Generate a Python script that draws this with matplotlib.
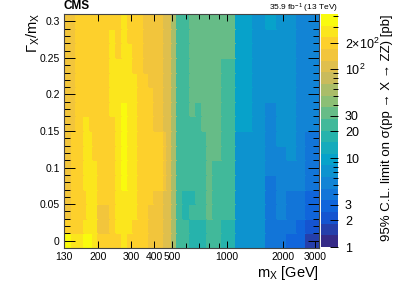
import numpy as np
import matplotlib
matplotlib.use('Agg')
import matplotlib.pyplot as plt
from matplotlib.colors import LinearSegmentedColormap, LogNorm
from matplotlib.ticker import FixedLocator, NullFormatter

plt.rcParams['font.family'] = ['Liberation Sans', 'DejaVu Sans']
plt.rcParams['mathtext.fontset'] = 'custom'
plt.rcParams['mathtext.rm'] = 'Liberation Sans'
plt.rcParams['mathtext.it'] = 'Liberation Sans:italic'
plt.rcParams['mathtext.bf'] = 'Liberation Sans:bold'

# mass points (GeV) and relative widths of the scan
masses = [130, 138, 148, 155, 162, 170, 177, 184, 192, 204, 222, 240, 259, 280,
          298, 318, 342, 362, 387, 419, 444, 463, 485, 513, 555, 600, 652, 704,
          749, 802, 870, 1000, 1260, 1500, 1780, 1970, 2290, 2530, 2860]
widths = [0.00, 0.02, 0.04, 0.06, 0.08, 0.10, 0.12, 0.14, 0.16, 0.18, 0.20,
          0.22, 0.24, 0.26, 0.28, 0.30]

# 95% CL limit [pb], one row per width value
lim_w000 = [300, 330, 300, 260, 280, 340, 340, 330, 280, 200, 190, 200, 200, 240, 200, 190, 195, 185, 145, 150, 130, 110, 100, 58, 22, 21, 19, 19, 20, 22, 24, 19, 7, 6.3, 4, 4.5, 3, 2.5, 1.5]
lim_w002 = [150, 200, 190, 200, 210, 230, 300, 300, 230, 150, 145, 200, 245, 280, 250, 190, 195, 185, 145, 150, 130, 110, 100, 58, 22, 21, 19, 19, 20, 22, 24, 19, 7, 6.3, 4, 4.5, 4, 3, 2.1]
lim_w004 = [135, 150, 170, 185, 200, 200, 240, 240, 230, 150, 145, 200, 245, 280, 250, 240, 195, 185, 145, 150, 130, 110, 100, 58, 24, 17, 24, 24, 25, 33, 24, 24, 7, 6.6, 4, 5.2, 4, 4, 3]
lim_w006 = [135, 150, 175, 190, 200, 200, 240, 240, 230, 190, 190, 200, 245, 280, 250, 240, 195, 185, 180, 150, 130, 110, 100, 58, 24, 17, 19, 24, 25, 33, 24, 24, 7, 6.6, 4, 5.2, 4, 4, 3]
lim_w008 = [135, 155, 175, 190, 210, 240, 245, 240, 230, 190, 190, 200, 245, 350, 250, 240, 195, 185, 180, 180, 185, 160, 100, 58, 24, 24, 24, 24, 25, 33, 24, 24, 7, 6.6, 4, 5.2, 5.2, 5.8, 4]
lim_w010 = [135, 150, 170, 190, 215, 240, 245, 240, 230, 190, 190, 200, 245, 350, 250, 240, 215, 185, 180, 180, 185, 160, 100, 58, 24, 24, 24, 24, 25, 33, 24, 24, 7, 6.6, 5.2, 5.2, 5.2, 5.8, 4]
lim_w012 = [135, 150, 170, 185, 200, 240, 245, 240, 200, 190, 190, 200, 245, 350, 250, 240, 215, 185, 180, 180, 185, 160, 100, 58, 24, 24, 24, 24, 25, 33, 33, 24, 7, 6.6, 5.2, 5.2, 6.8, 5.8, 4]
lim_w014 = [135, 150, 170, 190, 200, 240, 240, 240, 200, 190, 190, 200, 245, 350, 250, 240, 215, 185, 180, 180, 185, 160, 100, 58, 24, 24, 24, 24, 25, 33, 33, 24, 7, 6.6, 5.2, 6.8, 6.8, 5.8, 4]
lim_w016 = [135, 150, 165, 190, 195, 240, 240, 200, 195, 190, 190, 200, 245, 350, 250, 240, 215, 185, 180, 150, 130, 110, 100, 58, 24, 24, 24, 24, 33, 33, 33, 24, 9.5, 6.6, 5.2, 6.8, 6.8, 5.8, 5.2]
lim_w018 = [135, 150, 165, 185, 195, 200, 205, 200, 195, 190, 190, 240, 245, 350, 250, 240, 215, 185, 180, 150, 130, 110, 100, 58, 24, 24, 33, 24, 33, 33, 33, 24, 9.5, 6.6, 5.2, 6.8, 6.8, 5.8, 5.2]
lim_w020 = [135, 150, 160, 185, 195, 200, 200, 195, 195, 190, 190, 240, 245, 260, 250, 240, 215, 185, 180, 140, 130, 110, 100, 58, 24, 24, 33, 33, 33, 33, 33, 24, 9.5, 6.6, 6.8, 6.8, 6.8, 5.8, 5.2]
lim_w022 = [135, 150, 160, 180, 195, 200, 200, 195, 195, 190, 190, 240, 245, 260, 250, 240, 195, 185, 150, 140, 130, 110, 100, 58, 24, 24, 33, 33, 33, 33, 33, 24, 9.5, 6.6, 6.8, 6.8, 6.8, 5.8, 5.2]
lim_w024 = [135, 150, 160, 180, 195, 200, 200, 195, 195, 190, 190, 240, 245, 260, 250, 200, 195, 150, 150, 140, 130, 110, 100, 58, 24, 24, 33, 33, 33, 33, 33, 24, 9.5, 6.6, 6.8, 6.8, 6.8, 5.8, 5.2]
lim_w026 = [135, 150, 160, 185, 195, 200, 200, 195, 195, 190, 190, 240, 200, 260, 250, 200, 195, 150, 150, 140, 130, 110, 100, 58, 24, 24, 33, 33, 33, 33, 33, 32, 9.5, 6.6, 6.8, 6.8, 6.8, 5.8, 5.2]
lim_w028 = [135, 150, 160, 185, 190, 200, 200, 195, 195, 190, 190, 240, 200, 260, 200, 200, 195, 150, 150, 140, 130, 110, 100, 58, 24, 24, 33, 33, 33, 33, 33, 32, 9.5, 7.5, 6.8, 8, 7, 5.8, 5.2]
lim_w030 = [135, 150, 160, 185, 190, 200, 200, 195, 195, 190, 190, 200, 200, 260, 200, 200, 195, 150, 150, 140, 130, 110, 100, 58, 24, 24, 33, 33, 33, 33, 33, 32, 9.5, 7.5, 9, 8, 7, 5.8, 5.2]

limits = np.array([lim_w000, lim_w002, lim_w004, lim_w006, lim_w008, lim_w010,
                   lim_w012, lim_w014, lim_w016, lim_w018, lim_w020, lim_w022,
                   lim_w024, lim_w026, lim_w028, lim_w030], dtype=float)

cbar_ticks = [1, 2, 3, 10, 20, 30, 100, 200]
cbar_labels = ['1', '2', '3', '10', '20', '30', r'$10^{2}$', r'$2{\times}10^{2}$']
x_ticks = [130, 200, 300, 400, 500, 1000, 2000, 3000]

# ROOT kBird palette
bird = [(0.2082, 0.1664, 0.5293), (0.0592, 0.3599, 0.8684), (0.0780, 0.5041, 0.8385),
        (0.0232, 0.6419, 0.7914), (0.1802, 0.7178, 0.6425), (0.5301, 0.7492, 0.4662),
        (0.8186, 0.7328, 0.3499), (0.9956, 0.7862, 0.1968), (0.9764, 0.9832, 0.0539)]
cmap = LinearSegmentedColormap.from_list('bird', bird, N=20)
norm = LogNorm(vmin=1, vmax=420)

m = np.array(masses, dtype=float)
xe = np.sqrt(m[:-1] * m[1:])
xe = np.concatenate([[125.0], xe, [3200.0]])
w = np.array(widths)
ye = np.concatenate([w - 0.01, [w[-1] + 0.01]])

W, H = 399, 286
fig = plt.figure(figsize=(W / 100, H / 100), dpi=100)
ax = fig.add_axes([64 / W, 38 / H, 255 / W, 234 / H])
cax = fig.add_axes([321 / W, 39 / H, 17 / W, 233 / H])

mesh = ax.pcolormesh(xe, ye, limits, cmap=cmap, norm=norm, shading='flat',
                     edgecolors='face', linewidth=0.1)
ax.set_xscale('log')
ax.set_xlim(130, 3150)
ax.set_ylim(-0.01, 0.31)

ax.xaxis.set_major_locator(FixedLocator(x_ticks))
ax.set_xticklabels([str(t) for t in x_ticks])
ax.xaxis.set_minor_locator(FixedLocator([600, 700, 800, 900]))
ax.xaxis.set_minor_formatter(NullFormatter())
ax.yaxis.set_major_locator(FixedLocator([0, 0.05, 0.1, 0.15, 0.2, 0.25, 0.3]))
ax.set_yticklabels(['0', '0.05', '0.1', '0.15', '0.2', '0.25', '0.3'])
ax.yaxis.set_minor_locator(FixedLocator(np.arange(-0.01, 0.315, 0.01)))
ax.tick_params(which='both', direction='in', top=True, right=True,
               labelsize=7.5, color='black', width=0.7)
ax.tick_params(axis='y', which='major', length=8, pad=3)
ax.tick_params(axis='y', which='minor', length=4)
ax.tick_params(axis='x', which='major', length=5, pad=3)
ax.tick_params(axis='x', which='minor', length=3.5)
for s in ax.spines.values():
    s.set_linewidth(0.8)
    s.set_color('#444444')

cb = fig.colorbar(mesh, cax=cax)
cb.outline.set_visible(False)
cax.set_yticks(cbar_ticks)
cax.set_yticklabels(cbar_labels)
cax.yaxis.set_minor_locator(FixedLocator([4, 5, 6, 7, 8, 9, 40, 50, 60, 70, 80, 90, 300, 400]))
cax.yaxis.set_minor_formatter(NullFormatter())
cax.tick_params(which='both', direction='in', right=True, labelsize=9,
                width=0.7, color='black', pad=5)
cax.tick_params(which='major', length=6)
cax.tick_params(which='minor', length=3.5)

fig.text(33 / W, 1 - 13 / H, r'$\Gamma_{\rm X}/{\rm m}_{\rm X}$', rotation=90,
         ha='center', va='top', fontsize=10.5)
fig.text(319 / W, 1 - 273 / H, r'${\rm m}_{\rm X}$ [GeV]', ha='right',
         va='center', fontsize=10.5)
fig.text(387 / W, 1 - 14 / H, '95% C.L. limit on σ(pp → X → ZZ) [pb]',
         rotation=90, ha='center', va='top', fontsize=9.5)
fig.text(64 / W, 1 - 6 / H, 'CMS', fontweight='bold', ha='left', va='center',
         fontsize=8.5)
fig.text(338 / W, 1 - 8 / H, r'35.9 fb$^{-1}$ (13 TeV)', ha='right',
         va='center', fontsize=6)

fig.savefig('out.png', dpi=100)
